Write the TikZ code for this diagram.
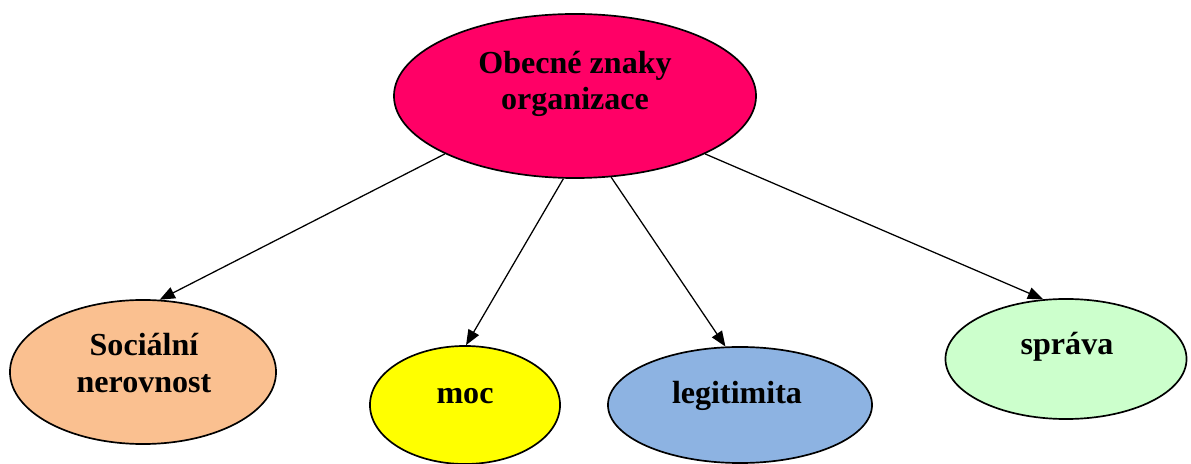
\documentclass[tikz,border=0pt]{standalone}
\usepackage{fontspec}
\setmainfont{Liberation Serif}
\usetikzlibrary{shapes.geometric,arrows.meta}

\definecolor{orgred}{HTML}{FF0066}
\definecolor{socpeach}{HTML}{FAC090}
\definecolor{mocyellow}{HTML}{FFFF00}
\definecolor{legblue}{HTML}{8DB3E2}
\definecolor{spgreen}{HTML}{CCFFCC}

\tikzset{
	oval/.style={ellipse, draw, line width=1.2pt, inner sep=0pt},
	lbl/.style={font=\bfseries\fontsize{22.8}{26}\selectfont, align=center},
	link/.style={-{Triangle[length=0.38cm,width=0.3cm]}, line width=0.9pt}
}

\begin{document}
\begin{tikzpicture}[x=0.025cm,y=-0.025cm]
	\useasboundingbox (0,0) rectangle (1191,464);
	% ellipses
	\node[oval,fill=orgred,minimum width=9.05cm,minimum height=4.1cm] (org) at (575,96) {};
	\node[oval,fill=socpeach,minimum width=6.65cm,minimum height=3.6cm] (soc) at (143,372) {};
	\node[oval,fill=mocyellow,minimum width=4.75cm,minimum height=2.95cm] (moc) at (465,405) {};
	\node[oval,fill=legblue,minimum width=6.6cm,minimum height=2.9cm] (leg) at (740,405) {};
	\node[oval,fill=spgreen,minimum width=6.025cm,minimum height=3cm] (sprava) at (1066,359) {};
	% texts
	\node[lbl] (orgT) at (575,84) {Obecné znaky\\organizace};
	\node[lbl] (socT) at (144,363) {Sociální\\nerovnost};
	\node[lbl] (mocT) at (465,396) {moc};
	\node[lbl] (legT) at (737,396) {legitimita};
	\node[lbl] (spravaT) at (1067,347) {správa};
	% arrows
	\draw[link] (org.204)--(soc.77);
	\draw[link] (org.262)--(moc.89);
	\draw[link] (org.294)--(leg.104);
	\draw[link] (org.336)--(sprava.111);
\end{tikzpicture}
\end{document}
